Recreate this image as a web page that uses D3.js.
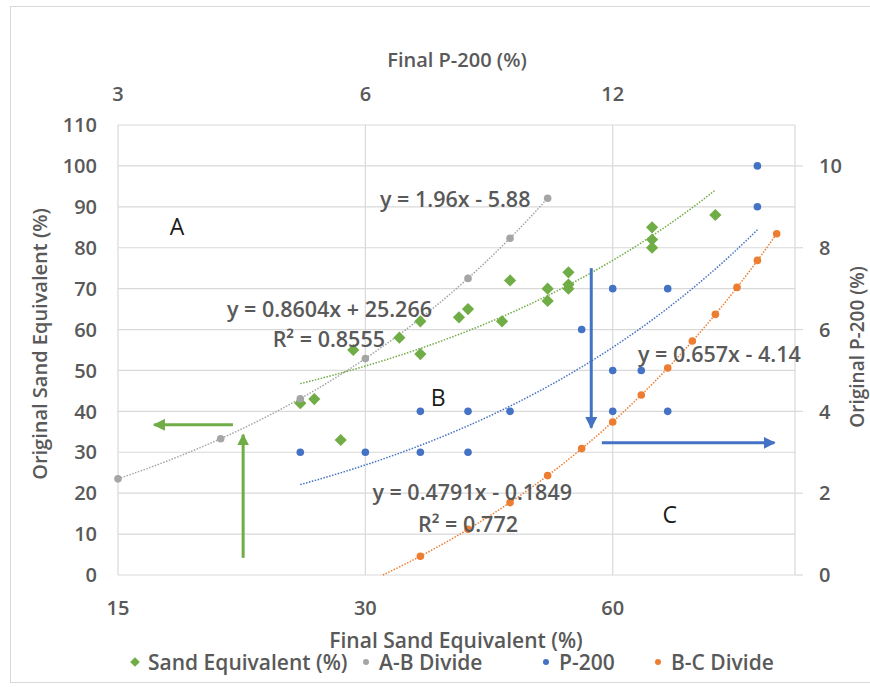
<!DOCTYPE html>
<html>
<head>
<meta charset="utf-8">
<script src="https://cdn.jsdelivr.net/npm/d3@7"></script>
<style>
  html, body { margin: 0; padding: 0; background: #ffffff; }
  svg { display: block; font-family: "Open Sans", "Liberation Sans", sans-serif; }
</style>
</head>
<body>
<script>
// ---- data -------------------------------------------------------------
// Sand equivalent: final (bottom axis) vs original (left axis)
const seFinal = [25, 26, 28, 29, 33, 35, 35, 39, 40, 44, 45, 50, 50, 53, 53, 53, 67, 67, 67, 80];
const seOriginal = [42, 43, 33, 55, 58, 62, 54, 63, 65, 62, 72, 70, 67, 74, 71, 70, 85, 82, 80, 88];

// A-B divide (bottom / left axes)
const abFinal = [15, 20, 25, 30, 40, 45, 50];
const abOriginal = [23.5, 33.3, 43.1, 52.9, 72.5, 82.3, 92.1];

// P-200: final (top axis) vs original (right axis)
const p200Final = [5, 6, 7, 7, 8, 8, 9, 11, 12, 12, 12, 13, 14, 14, 18, 18];
const p200Original = [3, 3, 3, 4, 3, 4, 4, 6, 7, 5, 4, 5, 7, 4, 10, 9];

// B-C divide (top / right axes)
const bcFinal = [7, 8, 9, 10, 11, 12, 13, 14, 15, 16, 17, 18, 19];
const bcOriginal = [0.46, 1.12, 1.77, 2.43, 3.09, 3.74, 4.40, 5.06, 5.72, 6.37, 7.03, 7.69, 8.34];

// linear trend lines: [slope, intercept, from, to]
const seTrend = [0.8604, 25.266, 25, 80];
const abTrend = [1.96, -5.88, 15, 50];
const p200Trend = [0.4791, -0.1849, 5, 18];
const bcTrend = [0.657, -4.14, 4.14 / 0.657, 19];

// axis ticks
const bottomTicks = [15, 30, 60];
const topTicks = [3, 6, 12];
const leftTicks = d3.range(0, 111, 10);
const rightTicks = d3.range(0, 11, 2);

const legendItems = ["Sand Equivalent (%)", "A-B Divide", "P-200", "B-C Divide"];

// ---- layout -----------------------------------------------------------
const W = 870, H = 687;
const plot = { left: 118, right: 795, top: 125, bottom: 575 };
const GREEN = "#70ad47", GREY = "#a5a5a5", BLUE = "#4472c4", ORANGE = "#ed7d31";
const TEXT = "#595959", GRID = "#d9d9d9";

const xSE = d3.scaleLog().domain([15, 100]).range([plot.left, plot.right]);
const xP = d3.scaleLog().domain([3, 20]).range([plot.left, plot.right]);
const ySE = d3.scaleLinear().domain([0, 110]).range([plot.bottom, plot.top]);
const yP = d3.scaleLinear().domain([0, 11]).range([plot.bottom, plot.top]);

const svg = d3.select("body").append("svg").attr("width", W).attr("height", H);

svg.append("rect").attr("width", W).attr("height", H).attr("fill", "#fff");
// chart frame
svg.append("rect").attr("x", 10.5).attr("y", 6.5).attr("width", W).attr("height", 676)
  .attr("fill", "none").attr("stroke", GRID);

// ---- grid and axes -----------------------------------------------------
const grid = svg.append("g").attr("stroke", GRID).attr("stroke-width", 1.2);
grid.selectAll(".h").data(leftTicks).join("line")
  .attr("x1", plot.left).attr("x2", plot.right)
  .attr("y1", d => ySE(d)).attr("y2", d => ySE(d));
// right-axis tick marks
grid.selectAll(".rt").data(rightTicks).join("line")
  .attr("x1", plot.right).attr("x2", plot.right + 8)
  .attr("y1", d => yP(d)).attr("y2", d => yP(d));
grid.selectAll(".v").data(bottomTicks).join("line")
  .attr("x1", d => xSE(d)).attr("x2", d => xSE(d))
  .attr("y1", plot.top).attr("y2", plot.bottom);
grid.append("line").attr("x1", plot.right).attr("x2", plot.right)
  .attr("y1", plot.top).attr("y2", plot.bottom);

const tickFont = g => g.attr("fill", TEXT).attr("font-size", 20).attr("font-weight", 600);

svg.append("g").call(tickFont).attr("text-anchor", "end")
  .selectAll("text").data(leftTicks).join("text")
  .attr("x", 97).attr("y", d => ySE(d)).attr("dy", "0.36em").text(d => d);

svg.append("g").call(tickFont).attr("text-anchor", "start")
  .selectAll("text").data(rightTicks).join("text")
  .attr("x", 819).attr("y", d => yP(d)).attr("dy", "0.36em").text(d => d);

svg.append("g").call(tickFont).attr("text-anchor", "middle")
  .selectAll("text").data(bottomTicks).join("text")
  .attr("x", d => xSE(d)).attr("y", 615).text(d => d);

svg.append("g").call(tickFont).attr("text-anchor", "middle")
  .selectAll("text").data(topTicks).join("text")
  .attr("x", d => xP(d)).attr("y", 101).text(d => d);

// axis titles
const title = (txt, x, y, rot, size) => svg.append("text")
  .attr("transform", `translate(${x},${y}) rotate(${rot})`)
  .attr("text-anchor", "middle").attr("fill", TEXT)
  .attr("font-size", size).attr("font-weight", 600).text(txt);
title("Final P-200 (%)", 457, 67, 0, 20);
title("Final Sand Equivalent (%)", 456, 648, 0, 21);
title("Original Sand Equivalent (%)", 47, 344, -90, 20);
title("Original P-200 (%)", 864, 347, -90, 19);

// ---- trend lines ---------------------------------------------------------
function trendPath([m, b, x0, x1], xs, ys, color) {
  const pts = d3.range(0, 201).map(i => {
    const x = x0 * Math.pow(x1 / x0, i / 200);
    return [xs(x), ys(m * x + b)];
  });
  svg.append("path").attr("d", d3.line()(pts))
    .attr("fill", "none").attr("stroke", color).attr("stroke-width", 1.5)
    .attr("stroke-dasharray", "1.5,1.5");
}
trendPath(abTrend, xSE, ySE, GREY);
trendPath(seTrend, xSE, ySE, GREEN);
trendPath(p200Trend, xP, yP, BLUE);
trendPath(bcTrend, xP, yP, ORANGE);

// ---- markers ------------------------------------------------------------
const diamond = d3.symbol().type(d3.symbolDiamond2).size(95);

svg.append("g").selectAll("path").data(seFinal).join("path")
  .attr("d", diamond)
  .attr("transform", (d, i) => `translate(${xSE(d)},${ySE(seOriginal[i])})`)
  .attr("fill", GREEN);

const dots = (xsData, ysData, xs, ys, color) =>
  svg.append("g").selectAll("circle").data(xsData).join("circle")
    .attr("cx", d => xs(d)).attr("cy", (d, i) => ys(ysData[i]))
    .attr("r", 3.8).attr("fill", color);

dots(abFinal, abOriginal, xSE, ySE, GREY);
dots(p200Final, p200Original, xP, yP, BLUE);
dots(bcFinal, bcOriginal, xP, yP, ORANGE);

// ---- arrows (bottom/left data units) --------------------------------------
const defs = svg.append("defs");
[["headGreen", GREEN], ["headBlue", BLUE]].forEach(([id, c]) => {
  defs.append("marker").attr("id", id).attr("viewBox", "0 0 10 10")
    .attr("refX", 9).attr("refY", 5).attr("markerWidth", 4).attr("markerHeight", 4)
    .attr("markerUnits", "strokeWidth").attr("orient", "auto")
    .append("path").attr("d", "M0,0L10,5L0,10Z").attr("fill", c);
});
const arrows = [
  { from: [20.7, 36.7], to: [16.6, 36.7], color: GREEN, head: "headGreen" },
  { from: [21.3, 4.2], to: [21.3, 34.3], color: GREEN, head: "headGreen" },
  { from: [56.5, 75], to: [56.5, 36], color: BLUE, head: "headBlue" },
  { from: [58.2, 32.3], to: [94.4, 32.3], color: BLUE, head: "headBlue" }
];
svg.append("g").selectAll("line").data(arrows).join("line")
  .attr("x1", d => xSE(d.from[0])).attr("y1", d => ySE(d.from[1]))
  .attr("x2", d => xSE(d.to[0])).attr("y2", d => ySE(d.to[1]))
  .attr("stroke", d => d.color).attr("stroke-width", 3)
  .attr("marker-end", d => `url(#${d.head})`);

// region letters
const regions = [["A", 17.7, 83], ["B", 36.8, 41.3], ["C", 70.4, 12.7]];
svg.append("g").attr("font-size", 23).attr("fill", "#1a1a1a").attr("text-anchor", "middle")
  .selectAll("text").data(regions).join("text")
  .attr("x", d => xSE(d[1])).attr("y", d => ySE(d[2])).text(d => d[0]);

// ---- trend equations ----------------------------------------------------
const eq = (txt, x, y, anchor) => svg.append("text")
  .attr("x", x).attr("y", y).attr("text-anchor", anchor)
  .attr("fill", TEXT).attr("font-size", 21.5).attr("font-weight", 600).text(txt);
eq("y = 1.96x - 5.88", 380, 207, "start");
eq("y = 0.8604x + 25.266", 432, 317, "end");
eq("R² = 0.8555", 385, 347, "end");
eq("y = 0.657x - 4.14", 638, 362, "start");
eq("y = 0.4791x - 0.1849", 572, 500, "end");
eq("R² = 0.772", 518, 532, "end");

// ---- legend ---------------------------------------------------------------
const legendX = [135, 366, 546, 658];
const legendColors = [GREEN, GREY, BLUE, ORANGE];
const lg = svg.append("g").attr("transform", "translate(0,662)");
legendItems.forEach((name, i) => {
  const g = lg.append("g").attr("transform", `translate(${legendX[i]},0)`);
  if (i === 0) {
    g.append("path").attr("d", d3.symbol().type(d3.symbolDiamond2).size(60)).attr("fill", legendColors[i]);
  } else {
    g.append("circle").attr("r", 3).attr("fill", legendColors[i]);
  }
  g.append("text").attr("x", 13).attr("dy", "0.36em")
    .attr("fill", TEXT).attr("font-size", 21).attr("font-weight", 600).text(name);
});
</script>
</body>
</html>
